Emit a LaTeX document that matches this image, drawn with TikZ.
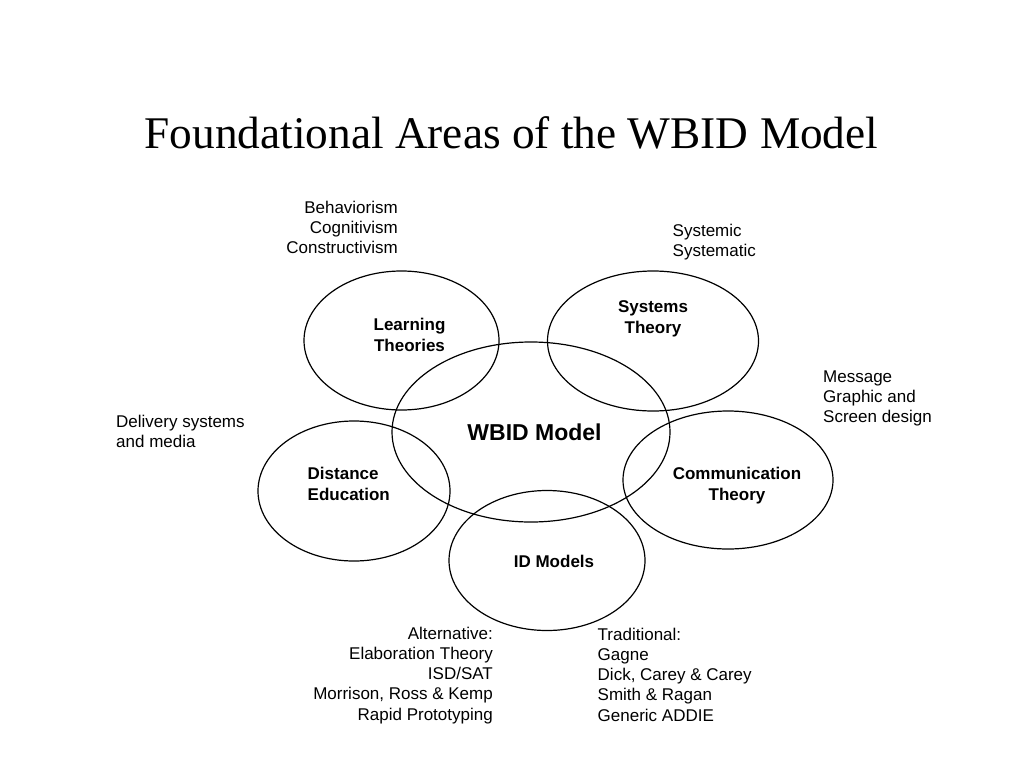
\documentclass[tikz,border=0pt]{standalone}
\usepackage{fontspec}
\setmainfont{Liberation Sans}
\newfontfamily\titlefont{Liberation Serif}
\usetikzlibrary{shapes.geometric}
\begin{document}
\begin{tikzpicture}[x=1pt,y=-1pt,
  area/.style={draw=black,line width=1.2pt,ellipse,inner sep=0pt},
  plain/.style={inner sep=0pt,font=\fontsize{17}{20.2}\selectfont},
  label/.style={inner sep=0pt,font=\fontsize{17}{21}\selectfont\bfseries,align=center}]
\useasboundingbox[fill=white] (0,0) rectangle (1024,768);
% title
\node[inner sep=0pt,anchor=base,font=\titlefont\fontsize{45.3}{50}\selectfont] (title) at (511.5,148) {Foundational Areas of the WBID Model};
% ellipses
\node[area,minimum width=195pt,minimum height=139pt] (lt) at (401.5,340.5) {};
\node[area,minimum width=211pt,minimum height=140pt] (st) at (653,341) {};
\node[area,minimum width=278pt,minimum height=180pt] (wb) at (531,432) {};
\node[area,minimum width=192pt,minimum height=140pt] (de) at (354,491) {};
\node[area,minimum width=210pt,minimum height=138pt] (ct) at (728,480) {};
\node[area,minimum width=196pt,minimum height=140pt] (id) at (547,560.5) {};
% bold labels (base anchor = baseline of the last line)
\node[label,anchor=base] (ltl) at (409.5,351) {Learning\\Theories};
\node[label,anchor=base] (stl) at (653,333) {Systems\\Theory};
\node[label,anchor=base,font=\fontsize{23}{26}\selectfont\bfseries] (wbl) at (534.5,440) {WBID Model};
\node[label,anchor=base west,align=left] (del) at (307.5,500.7) {Distance\\Education};
\node[label,anchor=base] (ctl) at (737,500.7) {Communication\\Theory};
\node[label,anchor=base] (idl) at (554,567.5) {ID Models};
% annotations
\node[plain,anchor=base east,align=right] (ltn) at (398,253.5) {Behaviorism\\Cognitivism\\Constructivism};
\node[plain,anchor=base west,align=left] (stn) at (672.5,256.7) {Systemic\\Systematic};
\node[plain,anchor=base west,align=left] (ctn) at (823,422.7) {Message\\Graphic and\\Screen design};
\node[plain,anchor=base west,align=left] (den) at (116,447.3) {Delivery systems\\and media};
\node[plain,anchor=base east,align=right] (alt) at (493,720) {Alternative:\\Elaboration Theory\\ISD/SAT\\Morrison, Ross \& Kemp\\Rapid Prototyping};
\node[plain,anchor=base west,align=left] (tra) at (597.5,721) {Traditional:\\Gagne\\Dick, Carey \& Carey\\Smith \& Ragan\\Generic ADDIE};
\end{tikzpicture}
\end{document}
